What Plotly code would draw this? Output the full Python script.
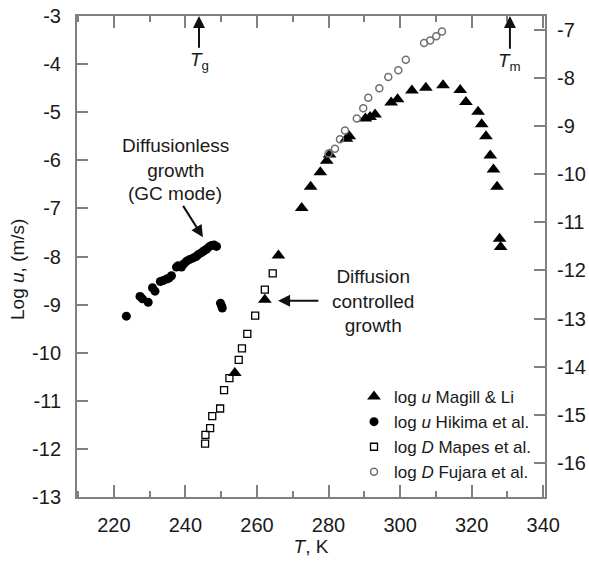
import plotly.graph_objects as go

# ---- data ----
# log u Magill & Li (left axis)
magill_T = [253.8, 262.2, 266.0, 272.5, 275.0, 277.7, 279.5, 280.3, 285.0, 285.8,
            290.3, 291.6, 293.0, 297.5, 299.3, 303.3, 307.2, 312.0, 316.8, 318.4,
            321.8, 322.8, 324.0, 325.2, 326.1, 327.1, 327.8, 328.1]
magill_u = [-10.42, -8.90, -7.98, -6.99, -6.55, -6.25, -6.01, -5.88, -5.55, -5.50,
            -5.13, -5.10, -5.05, -4.80, -4.73, -4.55, -4.49, -4.44, -4.54, -4.79,
            -4.99, -5.25, -5.50, -5.90, -6.19, -6.55, -7.63, -7.80]

# log u Hikima et al. (left axis)
hikima_T = [223.5, 227.3, 228.0, 229.6, 230.8, 231.5, 233.0, 233.8, 234.7, 235.4,
            236.1, 237.5, 238.0, 238.9, 239.6, 240.3, 241.2, 242.2, 243.0, 243.6,
            244.5, 245.2, 245.9, 246.6, 247.3, 248.0, 248.7, 249.8, 250.1, 250.3]
hikima_u = [-9.24, -8.83, -8.88, -8.95, -8.65, -8.72, -8.52, -8.50, -8.47, -8.45,
            -8.40, -8.22, -8.19, -8.22, -8.15, -8.10, -8.06, -8.03, -8.00, -7.96,
            -7.92, -7.88, -7.85, -7.80, -7.77, -7.76, -7.79, -8.97, -9.02, -9.07]

# log D Mapes et al. (right axis)
mapes_T = [245.5, 245.6, 246.9, 247.5, 249.7, 250.8, 252.3, 254.9, 255.8, 257.3,
           259.5, 262.2, 264.4]
mapes_D = [-15.60, -15.42, -15.28, -15.03, -14.87, -14.49, -14.24, -13.86, -13.62, -13.32,
           -12.94, -12.40, -12.06]

# log D Fujara et al. (right axis)
fujara_T = [280.0, 281.8, 283.2, 284.6, 287.9, 289.7, 291.1, 294.2, 296.7, 299.5,
            301.6, 306.7, 308.4, 310.1, 311.7]
fujara_D = [-9.57, -9.47, -9.27, -9.09, -8.84, -8.63, -8.41, -8.21, -7.98, -7.84,
            -7.62, -7.27, -7.22, -7.13, -7.03]

x_ticks = [220, 240, 260, 280, 300, 320, 340]
left_ticks = [-3, -4, -5, -6, -7, -8, -9, -10, -11, -12, -13]
right_ticks = [-7, -8, -9, -10, -11, -12, -13, -14, -15, -16]

FONT = "Liberation Sans, Arial, Helvetica, sans-serif"
TXT = "#1a1a1a"
FRAME = "#808080"

fig = go.Figure()
fig.add_trace(go.Scatter(x=magill_T, y=magill_u, mode="markers",
                         name="log <i>u</i> Magill &amp; Li",
                         marker=dict(symbol="triangle-up", size=12, color="black")))
fig.add_trace(go.Scatter(x=hikima_T, y=hikima_u, mode="markers",
                         name="log <i>u</i> Hikima et al.",
                         marker=dict(symbol="circle", size=9, color="black")))
fig.add_trace(go.Scatter(x=mapes_T, y=mapes_D, mode="markers", yaxis="y2",
                         name="log <i>D</i> Mapes et al.",
                         marker=dict(symbol="square-open", size=7, color="black",
                                     line=dict(width=1.3, color="black"))))
fig.add_trace(go.Scatter(x=fujara_T, y=fujara_D, mode="markers", yaxis="y2",
                         name="log <i>D</i> Fujara et al.",
                         marker=dict(symbol="circle-open", size=7, color="#707070",
                                     line=dict(width=1.5, color="#707070"))))

afont = dict(size=19, family=FONT, color=TXT)
arrow = dict(showarrow=True, arrowhead=2, arrowsize=1.2, arrowwidth=2,
             arrowcolor="#111", axref="x", ayref="y", xref="x", yref="y", font=afont)
ann = []
# Tg: label with arrow up to the top axis
ann.append(dict(arrow, text="<i>T</i><sub>g</sub>", x=243.8, y=-3.0, ax=243.8, ay=-3.94,
                startstandoff=0))
# Tm
ann.append(dict(arrow, text="<i>T</i><sub>m</sub>", x=330.7, y=-3.0, ax=330.7, ay=-3.96,
                startstandoff=0))
# Diffusionless growth (GC mode)
ann.append(dict(x=237.1, y=-5.945, xref="x", yref="y", showarrow=False,
                text="Diffusionless<br>growth", font=afont))
ann.append(dict(arrow, text="(GC mode)", x=244.9, y=-7.60, ax=237.1, ay=-6.68,
                startstandoff=1))
# Diffusion controlled growth
ann.append(dict(arrow, text="Diffusion<br>controlled<br>growth",
                x=265.9, y=-8.92, ax=292.4, ay=-8.92, startstandoff=12))

pl, pr, pt, pb = 77, 44, 16, 65
W, H = 589, 562
pw, ph = W - pl - pr, H - pt - pb
# left axis title
ann.append(dict(x=(17 - pl) / pw, y=(H - pb - 270) / ph, xref="paper", yref="paper",
                xanchor="center", yanchor="middle", showarrow=False,
                text="Log <i>u</i>, (m/s)", textangle=-90, font=afont))

axis_common = dict(showline=True, linecolor=FRAME, linewidth=2, ticks="inside",
                   tickcolor=FRAME, tickwidth=2, showgrid=False, zeroline=False,
                   automargin=False, tickfont=dict(size=20, family=FONT, color=TXT))

fig.update_layout(
    width=W, height=H, margin=dict(l=pl, r=pr, t=pt, b=pb),
    paper_bgcolor="white", plot_bgcolor="white",
    font=dict(family=FONT, color=TXT),
    showlegend=True,
    legend=dict(x=(354 - pl) / pw, y=(497 - 490) / ph, xanchor="left", yanchor="bottom",
                bgcolor="rgba(0,0,0,0)", font=dict(size=17, family=FONT, color=TXT),
                tracegroupgap=0, itemwidth=30),
    xaxis=dict(axis_common, range=[209.7, 340.5], tickvals=x_ticks,
               ticktext=[str(v) for v in x_ticks], ticklen=12,
               mirror="ticks", ticklabelstandoff=9,
               minor=dict(dtick=10, tick0=210, ticklen=6, ticks="inside",
                          tickcolor=FRAME, tickwidth=2),
               title=dict(text="<i>T</i>, K", font=afont, standoff=4)),
    yaxis=dict(axis_common, range=[-13, -3], tickvals=left_ticks,
               ticktext=[str(v) for v in left_ticks], ticklen=11,
               ticklabelstandoff=10),
    yaxis2=dict(axis_common, range=[-16.71, -6.71], tickvals=right_ticks,
                ticktext=[str(v) for v in right_ticks], ticklen=11,
                overlaying="y", side="right", ticklabelstandoff=6),
    annotations=ann,
)

fig.write_html("out.html")
